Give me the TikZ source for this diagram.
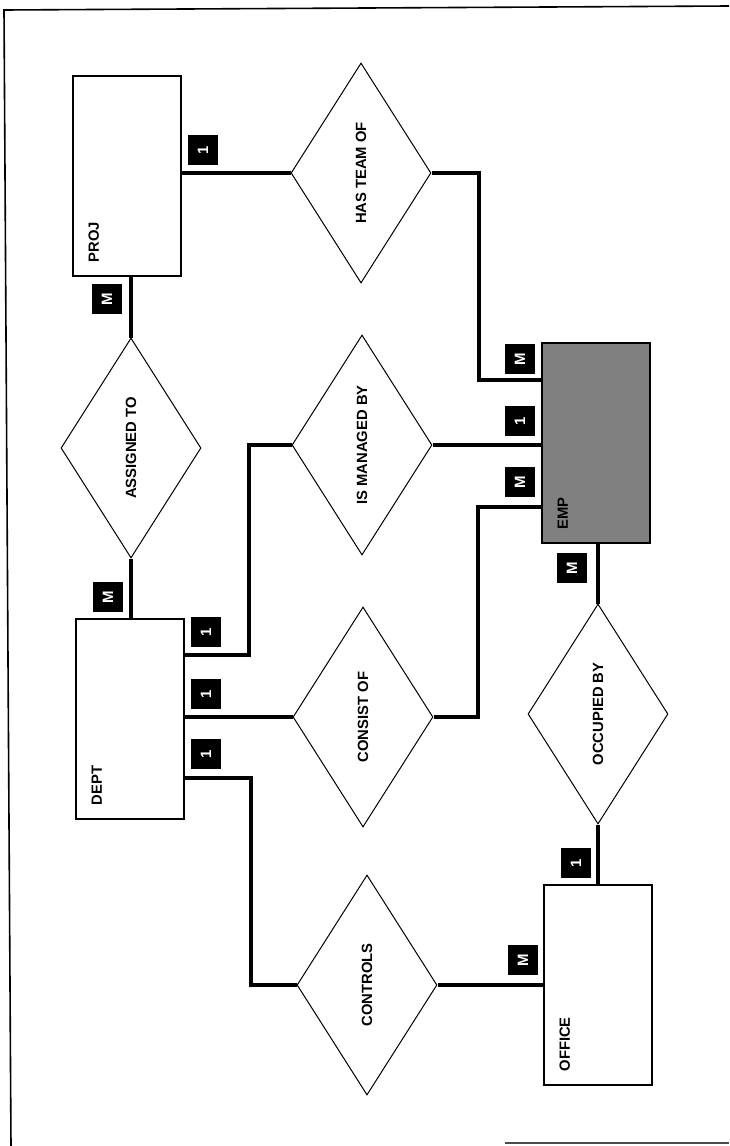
\documentclass[tikz,border=0pt]{standalone}
\usepackage{fontspec}
\setmainfont{Liberation Sans}
\usetikzlibrary{shapes.geometric}
\begin{document}
\begin{tikzpicture}[x=0.5pt, y=-0.5pt,
	ent/.style={draw, line width=0.8pt, minimum width=54pt, minimum height=100pt, inner sep=0pt},
	rel/.style={draw, diamond, line width=0.5pt, minimum width=70pt, minimum height=110pt, inner sep=0pt,
		font=\fontsize{7.4}{8}\selectfont\bfseries},
	entlbl/.style={rotate=90, anchor=north west, inner sep=0pt, font=\fontsize{7.4}{8}\selectfont\bfseries},
	card/.style={fill=black, text=white, minimum size=15pt, inner sep=0pt, rotate=90,
		font=\fontsize{7.5}{8}\selectfont\bfseries},
	link/.style={line width=2pt}]
	\useasboundingbox (0,0) rectangle (729,1146);
	\draw[line width=0.8pt] (729,6) -- (4,10) -- (11,1146);
	\draw[line width=0.6pt, black!70] (505,1143) -- (729,1143);

	\node[ent] (proj) at (127,176) {};
	\node[ent] (dept) at (130,719) {};
	\node[ent, fill=black!50] (emp) at (596,443) {};
	\node[ent] (office) at (598,985) {};
	\node[entlbl] (projlbl) at ([shift={(16,-14)}]proj.south west) {PROJ};
	\node[entlbl] (deptlbl) at ([shift={(16,-14)}]dept.south west) {DEPT};
	\node[entlbl] (emplbl) at ([shift={(16,-14)}]emp.south west) {EMP};
	\node[entlbl] (officelbl) at ([shift={(16,-14)}]office.south west) {OFFICE};

	\node[rel] (hasteam) at (361,173) {\rotatebox{90}{HAS TEAM OF}};
	\node[rel] (assigned) at (131,448) {\rotatebox{90}{ASSIGNED TO}};
	\node[rel] (managed) at (362,445) {\rotatebox{90}{IS MANAGED BY}};
	\node[rel] (consist) at (363,717) {\rotatebox{90}{CONSIST OF}};
	\node[rel] (occupied) at (598,714) {\rotatebox{90}{OCCUPIED BY}};
	\node[rel] (controls) at (367,985) {\rotatebox{90}{CONTROLS}};

	\coordinate (empteam) at ([shift={(0,-63)}]emp.west);
	\coordinate (empcon) at ([shift={(0,64)}]emp.west);
	\coordinate (deptman) at ([shift={(0,-64)}]dept.east);
	\coordinate (deptctl) at ([shift={(0,59)}]dept.east);

	\draw[link] (hasteam.west) -- (hasteam.west -| proj.east);
	\draw[link] (hasteam.east) -- ++(47,0) |- (empteam);
	\draw[link] (assigned.north) -- (assigned.north |- proj.south);
	\draw[link] (assigned.south) -- (assigned.south |- dept.north);
	\draw[link] (managed.west) -- ++(-43,0) |- (deptman);
	\draw[link] (managed.east) -- (managed.east -| emp.west);
	\draw[link] (consist.west) -- (consist.west -| dept.east);
	\draw[link] (consist.east) -- ++(44,0) |- (empcon);
	\draw[link] (controls.west) -- ++(-46,0) |- (deptctl);
	\draw[link] (controls.east) -- (controls.east -| office.west);
	\draw[link] (occupied.north) -- (occupied.north |- emp.south);
	\draw[link] (occupied.south) -- (occupied.south |- office.north);

	\node[card] (projteam) at (203,150) {1};
	\node[card] (projass) at (107,299) {M};
	\node[card] (empteamm) at (520,359) {M};
	\node[card] (deptass) at (108,597) {M};
	\node[card] (deptman1) at (206,632) {1};
	\node[card] (deptcon1) at (206,694) {1};
	\node[card] (deptctl1) at (206,754) {1};
	\node[card] (empman1) at (520,421) {1};
	\node[card] (empconm) at (520,482) {M};
	\node[card] (empocc) at (572,568) {M};
	\node[card] (officeocc) at (576,863) {1};
	\node[card] (officectl) at (523,960) {M};
\end{tikzpicture}
\end{document}
